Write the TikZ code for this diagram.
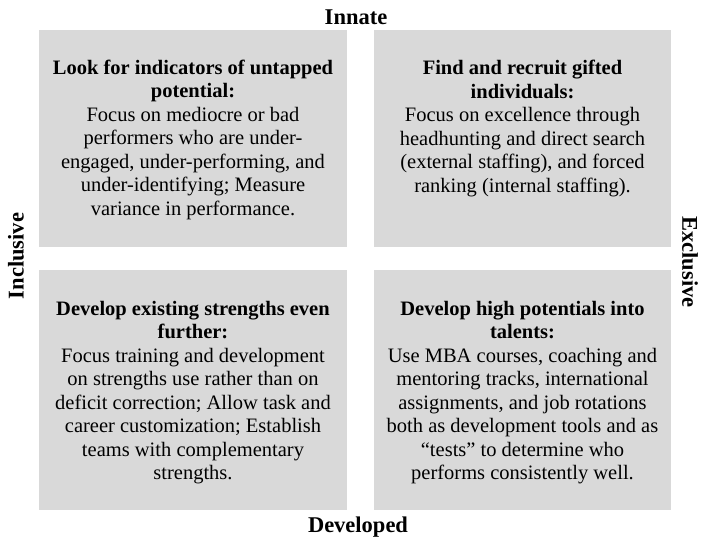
\documentclass[tikz,border=0pt]{standalone}
\usepackage{fontspec}
\setmainfont{Liberation Serif}
\usepackage{tikz}
\usetikzlibrary{positioning}
\definecolor{boxgray}{RGB}{217,217,217}

\begin{document}
\begin{tikzpicture}[x=1pt, y=-1pt, quad/.style={fill=boxgray},
	txt/.style={anchor=north, align=center, inner sep=0pt, font=\fontsize{20.5}{23.5}\selectfont},
	axis/.style={font=\fontsize{22.5}{24}\selectfont\bfseries, inner sep=0pt}]
\useasboundingbox (0,0) rectangle (703,542);
\fill[quad] (39, 30) rectangle (347, 247);
\fill[quad] (374, 30) rectangle (671, 247);
\fill[quad] (39, 270) rectangle (347, 510);
\fill[quad] (374, 270) rectangle (671, 510);
\node[txt] (untapped) at (193, 59.5) {\textbf{Look for indicators of untapped}\\
	\textbf{potential:}\\
	Focus on mediocre or bad\\
	performers who are under-\\
	engaged, under-performing, and\\
	under-identifying; Measure\\
	variance in performance.};
\node[txt] (recruit) at (522.5, 60) {\textbf{Find and recruit gifted}\\
	\textbf{individuals:}\\
	Focus on excellence through\\
	headhunting and direct search\\
	(external staffing), and forced\\
	ranking (internal staffing).};
\node[txt] (strengths) at (193, 301) {\textbf{Develop existing strengths even}\\
	\textbf{further:}\\
	Focus training and development\\
	on strengths use rather than on\\
	deficit correction; Allow task and\\
	career customization; Establish\\
	teams with complementary\\
	strengths.};
\node[txt] (potentials) at (522.5, 301) {\textbf{Develop high potentials into}\\
	\textbf{talents:}\\
	Use MBA courses, coaching and\\
	mentoring tracks, international\\
	assignments, and job rotations\\
	both as development tools and as\\
	``tests'' to determine who\\
	performs consistently well.};
\node[axis] (innate) at (356, 17) {Innate};
\node[axis] (developed) at (358, 527) {Developed};
\node[axis, rotate=90] (inclusive) at (16, 256) {Inclusive};
\node[axis, rotate=-90] (exclusive) at (690, 262) {Exclusive};
\end{tikzpicture}
\end{document}
